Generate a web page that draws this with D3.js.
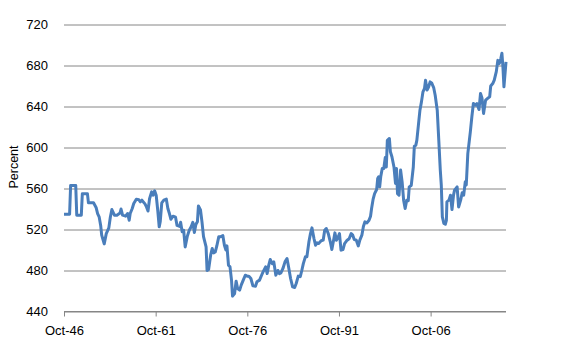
<!DOCTYPE html>
<html>
<head>
<meta charset="utf-8">
<script src="https://cdn.jsdelivr.net/npm/d3@7"></script>
<style>
  body { margin: 0; background: #fff; }
  text { font-family: "Liberation Sans", Arial, sans-serif; fill: #000; }
</style>
</head>
<body>
<div id="chart"></div>
<script>
// Serie (mes, valor)
const DATES = [
  "1946-10","1947-09","1947-11","1948-09","1948-11","1949-08","1949-10","1950-08","1950-10","1951-08",
  "1952-01","1952-04","1952-07","1952-10","1952-12","1953-05","1953-09","1954-02","1954-05","1954-08",
  "1955-01","1955-06","1955-12","1956-02","1956-05","1956-11","1957-03","1957-06","1957-08","1957-12",
  "1958-03","1958-08","1959-01","1959-04","1959-07","1960-01","1960-04","1960-07","1960-10","1961-02",
  "1961-05","1961-08","1961-11","1962-02","1962-05","1962-07","1962-10","1963-02","1963-07","1963-10",
  "1964-01","1964-04","1964-08","1965-01","1965-04","1965-09","1965-11","1966-02","1966-05","1966-08",
  "1966-12","1967-04","1967-08","1967-11","1968-02","1968-05","1968-08","1968-10","1969-02","1969-05",
  "1969-08","1970-01","1970-03","1970-06","1970-10","1971-01","1971-04","1971-07","1971-10","1972-02",
  "1972-06","1972-10","1973-01","1973-04","1973-06","1973-09","1973-12","1974-03","1974-05","1974-09",
  "1974-12","1975-03","1975-07","1975-10","1976-02","1976-06","1976-10","1977-01","1977-05","1977-09",
  "1978-02","1978-05","1978-10","1979-02","1979-05","1979-10","1980-01","1980-04","1980-07","1980-11",
  "1981-02","1981-06","1981-10","1982-01","1982-04","1982-08","1982-12","1983-04","1983-07","1983-11",
  "1984-03","1984-07","1984-10","1985-02","1985-06","1985-09","1985-12","1986-04","1986-07","1986-11",
  "1987-02","1987-05","1987-09","1987-12","1988-03","1988-06","1988-11","1989-03","1989-06","1989-09",
  "1990-01","1990-05","1990-08","1990-12","1991-02","1991-05","1991-08","1991-11","1992-02","1992-06",
  "1992-09","1993-02","1993-06","1993-10","1994-01","1994-04","1994-08","1994-12","1995-03","1995-07",
  "1995-10","1996-01","1996-05","1996-09","1996-12","1997-02","1997-05","1997-08","1997-12","1998-02",
  "1998-04","1998-06","1998-08","1998-11","1999-02","1999-05","1999-07","1999-09","2000-01","2000-03",
  "2000-06","2000-10","2001-01","2001-03","2001-05","2001-08","2001-11","2002-02","2002-05","2002-08",
  "2002-11","2003-02","2003-04","2003-08","2003-12","2004-02","2004-05","2004-07","2004-10","2005-01",
  "2005-04","2005-07","2005-10","2005-12","2006-03","2006-06","2006-09","2006-12","2007-04","2007-07",
  "2007-11","2008-02","2008-05","2008-07","2008-09","2008-12","2009-03","2009-05","2009-06","2009-10",
  "2010-01","2010-04","2010-07","2010-09","2011-02","2011-05","2011-09","2011-12","2012-03","2012-06",
  "2012-08","2012-11","2013-02","2013-04","2013-07","2013-10","2014-02","2014-05","2014-09","2014-12",
  "2015-03","2015-06","2015-10","2016-02","2016-06","2016-08","2016-12","2017-03","2017-07","2017-10",
  "2018-01","2018-04","2018-06","2018-08","2018-10","2019-02"
];
const VALUES = [
  535,535,563,563,534,534,555,555,546,546,
  541.5,535.6,532.4,524,514.5,506,516,521.6,532,539.5,
  534,534,536,540,534,533,535.6,529,535.6,540.5,
  545.4,549.6,549,547,548.6,545,542,538,550,556.7,
  553.5,557.7,553.5,539,522.6,527.5,546,548.6,549.6,540.5,
  535.6,530,533,532,524,523,527,517.7,519.3,503,
  513,519.3,523,527,517,525,527.5,543,539,527.5,
  513,503,480,481,495,501.5,497.2,498,503.7,513,
  513,514,504.7,500,504,485.2,483.6,470.6,455,457.6,
  469.6,462.4,460.8,465.7,470.6,475.4,474.5,474.5,472.2,465,
  464.7,469,470.6,475.4,478.7,483.6,477,485,490.7,486.7,
  488.4,475.4,480,477,477.7,482,488.4,491.7,483.6,472.2,
  464,463.4,467.3,474.5,474,480,486.7,493.3,493.3,508,
  516,521.6,511,504.7,507,506.3,509,509.6,519.3,521,
  516,508,500.5,511,516.7,509.6,512,516,499.8,500.5,
  506.3,509.6,511,516,514.5,510.2,509.6,504,509.6,514.5,
  523,527.5,526.5,529,533,540.5,549.3,555,559,569.7,
  571.4,561.6,571.4,579.5,579.5,590.2,581,607,608.8,595.8,
  591,581,564.9,579.5,555,553.5,578,566.5,548.6,540.5,
  548.6,548,561.6,563,581,601.3,602.3,607.2,621.8,636.4,
  644.5,654.3,657.6,665.7,656,659,664,663,658.5,651,
  636.4,607.2,578,563,532.3,526,525.2,529,547,548.6,
  553.5,539.5,553.5,558.4,561.6,542,548.6,555.8,553.5,566.5,
  563.4,594,607,615.3,630,642.9,641.3,642.9,637,652.7,
  648,633.2,646.2,648,649.4,660,662.4,665.7,674,685,
  682,687,692,678.7,659.2,683.6
];
const Y_TICKS = [440, 480, 520, 560, 600, 640, 680, 720];
const X_TICKS = ["1946-10", "1961-10", "1976-10", "1991-10", "2006-10"];
const Y_LABEL = "Percent";

const WIDTH = 561;
const HEIGHT = 353;
const MARGIN = { top: 24.5, right: 55, bottom: 41.5, left: 64 };

const parse = d3.timeParse("%Y-%m");
const datos = DATES.map((d, i) => ({ fecha: parse(d), valor: VALUES[i] }));

const svg = d3.select("#chart").append("svg")
  .attr("width", WIDTH).attr("height", HEIGHT);

const x = d3.scaleTime()
  .domain(d3.extent(datos, d => d.fecha))
  .range([MARGIN.left, WIDTH - MARGIN.right]);

const y = d3.scaleLinear()
  .domain([440, 720])
  .range([HEIGHT - MARGIN.bottom, MARGIN.top]);

// Grilla + etiquetas eje Y
const gy = svg.append("g")
  .attr("transform", `translate(${MARGIN.left},0)`)
  .call(d3.axisLeft(y).tickValues(Y_TICKS).tickSize(-(WIDTH - MARGIN.left - MARGIN.right)).tickPadding(16));
gy.select(".domain").remove();
gy.selectAll("line").attr("stroke", "#868686").attr("stroke-width", 1);
gy.selectAll("text").style("font-size", "13px");

// Eje X
const gx = svg.append("g")
  .attr("transform", `translate(0,${HEIGHT - MARGIN.bottom})`)
  .call(d3.axisBottom(x).tickValues(X_TICKS.map(parse)).tickFormat(d3.timeFormat("%b-%y")).tickSize(5).tickPadding(9));
gx.select(".domain").attr("stroke", "#868686").attr("d", `M${MARGIN.left},0H${WIDTH - MARGIN.right}`);
gx.selectAll("line").attr("stroke", "#868686");
gx.selectAll("text").style("font-size", "13px");

// Título eje Y
svg.append("text")
  .attr("transform", `translate(18,${(MARGIN.top + HEIGHT - MARGIN.bottom) / 2 - 1}) rotate(-90)`)
  .attr("text-anchor", "middle")
  .style("font-size", "12.5px")
  .text(Y_LABEL);

// Línea
svg.append("path")
  .datum(datos)
  .attr("fill", "none")
  .attr("stroke", "#4a7ebb")
  .attr("stroke-width", 3)
  .attr("stroke-linejoin", "round")
  .attr("d", d3.line().x(d => x(d.fecha)).y(d => y(d.valor)));
</script>
</body>
</html>
